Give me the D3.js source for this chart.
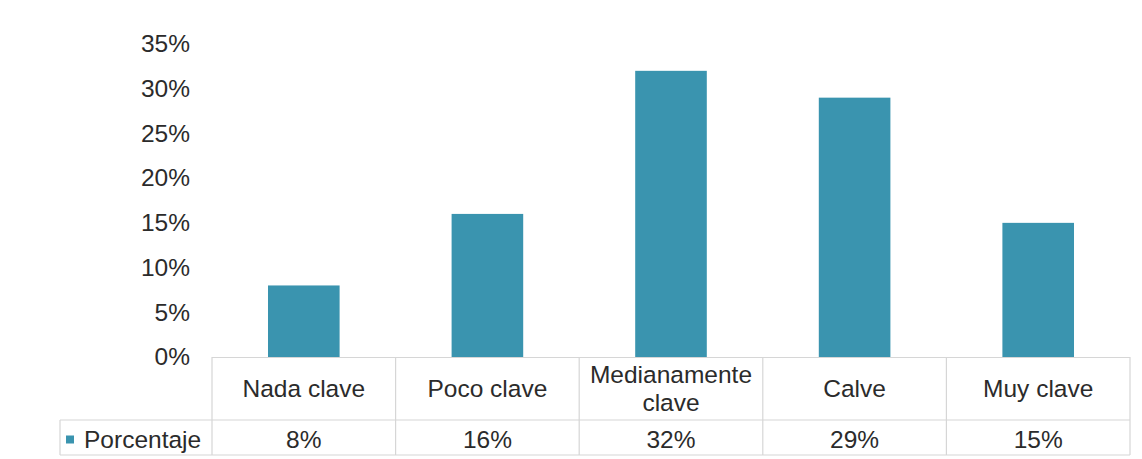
<!DOCTYPE html>
<html>
<head>
<meta charset="utf-8">
<script src="https://cdn.jsdelivr.net/npm/d3@7"></script>
<style>
  html, body { margin: 0; padding: 0; background: #fff; }
  svg { display: block; }
  text { font-family: "Liberation Sans", Arial, sans-serif; fill: #2b2b2b; }
</style>
</head>
<body>
<svg id="chart" width="1142" height="459"></svg>
<script>
// Categories and the share of answers for each
const categories = ["Nada clave", "Poco clave", "Medianamente clave", "Calve", "Muy clave"];
const values = [0.08, 0.16, 0.32, 0.29, 0.15];
const seriesName = "Porcentaje";
const yTicks = [0, 0.05, 0.10, 0.15, 0.20, 0.25, 0.30, 0.35];

const svg = d3.select("#chart");

// Plot area and the data table beneath it
const plot = { left: 212, right: 1130, top: 44, bottom: 357 };
const table = { legendLeft: 60, catRowBottom: 420, bottom: 455 };
const barColor = "#3a94af";
const gridColor = "#d6d6d6";
const fontSize = 24.5;

const x = d3.scaleBand()
  .domain(categories)
  .range([plot.left, plot.right])
  .paddingInner(0.61)
  .paddingOuter(0.305);

const y = d3.scaleLinear()
  .domain([0, 0.35])
  .range([plot.bottom, plot.top]);

// Y axis: labels only, no line or ticks
const yAxis = d3.axisLeft(y)
  .tickValues(yTicks)
  .tickFormat(d3.format(".0%"))
  .tickSize(0)
  .tickPadding(0);

svg.append("g")
  .attr("transform", `translate(190,0)`)
  .call(yAxis)
  .call(g => g.select(".domain").remove())
  .call(g => g.selectAll("text")
    .attr("font-size", fontSize)
    .attr("font-family", "Liberation Sans, Arial, sans-serif")
    .attr("fill", "#2b2b2b"));

// Bars
svg.append("g")
  .selectAll("rect")
  .data(categories)
  .join("rect")
  .attr("x", d => x(d))
  .attr("width", x.bandwidth())
  .attr("y", (d, i) => y(values[i]))
  .attr("height", (d, i) => y(0) - y(values[i]))
  .attr("fill", barColor);

// Data table grid
const colEdges = d3.range(categories.length + 1).map(i => plot.left + i * x.step());
const grid = svg.append("g")
  .attr("stroke", gridColor)
  .attr("stroke-width", 1.2)
  .attr("fill", "none");

grid.append("line")
  .attr("x1", plot.left).attr("x2", plot.right)
  .attr("y1", plot.bottom + 0.5).attr("y2", plot.bottom + 0.5);
grid.append("line")
  .attr("x1", table.legendLeft).attr("x2", plot.right)
  .attr("y1", table.catRowBottom).attr("y2", table.catRowBottom);
grid.append("line")
  .attr("x1", table.legendLeft).attr("x2", plot.right)
  .attr("y1", table.bottom).attr("y2", table.bottom);
grid.append("line")
  .attr("x1", table.legendLeft).attr("x2", table.legendLeft)
  .attr("y1", table.catRowBottom).attr("y2", table.bottom);
grid.selectAll("line.col")
  .data(colEdges)
  .join("line")
  .attr("class", "col")
  .attr("x1", d => d).attr("x2", d => d)
  .attr("y1", plot.bottom).attr("y2", table.bottom);

// Category labels (wrapped onto two lines when needed)
const catMid = (plot.bottom + table.catRowBottom) / 2;
const catLines = categories.map(c => c === "Medianamente clave" ? ["Medianamente", "clave"] : [c]);
const catG = svg.append("g");
categories.forEach((c, i) => {
  const lines = catLines[i];
  const lh = 28;
  const cx = x(c) + x.bandwidth() / 2;
  const t = catG.append("text")
    .attr("text-anchor", "middle")
    .attr("font-size", fontSize)
    .attr("x", cx);
  lines.forEach((ln, j) => {
    t.append("tspan")
      .attr("x", cx)
      .attr("y", catMid + (j - (lines.length - 1) / 2) * lh)
      .attr("dy", "0.35em")
      .text(ln);
  });
});

// Value row
const valMid = (table.catRowBottom + table.bottom) / 2 + 2;
svg.append("g")
  .selectAll("text")
  .data(categories)
  .join("text")
  .attr("text-anchor", "middle")
  .attr("font-size", fontSize)
  .attr("x", d => x(d) + x.bandwidth() / 2)
  .attr("y", valMid)
  .attr("dy", "0.35em")
  .text((d, i) => d3.format(".0%")(values[i]));

// Legend key in the table
svg.append("rect")
  .attr("x", 66).attr("y", valMid - 4)
  .attr("width", 8).attr("height", 8)
  .attr("fill", barColor);
svg.append("text")
  .attr("x", 84).attr("y", valMid)
  .attr("dy", "0.35em")
  .attr("font-size", fontSize)
  .text(seriesName);
</script>
</body>
</html>
